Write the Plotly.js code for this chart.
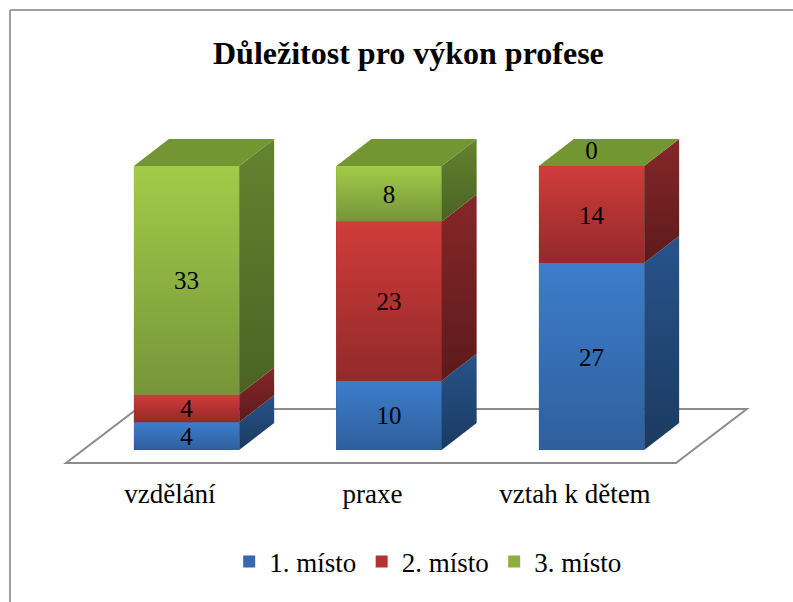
<!DOCTYPE html>
<html><head><meta charset="utf-8">
<script src="https://cdn.plot.ly/plotly-3.0.1.min.js"></script>
<style>html,body{margin:0;padding:0;background:#fff}#c{width:793px;height:602px}</style>
</head><body><div id="c"></div>
<script>
const categories = ["vzdělání", "praxe", "vztah k dětem"];
const seriesNames = ["1. místo", "2. místo", "3. místo"];
const place1 = [4, 10, 27];
const place2 = [4, 23, 14];
const place3 = [33, 8, 0];
const series = [place1, place2, place3];

const frontTop = ["#3d7dcc", "#d03c3a", "#a2cb48"];
const frontBottom = ["#2e5f9c", "#93292a", "#76953a"];
const sideTop = ["#27548c", "#86272a", "#64832f"];
const sideBottom = ["#1b3a60", "#5c1a1a", "#4a6324"];
const legendFill = ["#3568ac", "#b23333", "#8cb03f"];
const topFace = "#749632";
const floorLine = "#8c8c8c";
const borderLine = "#a0a0a0";
const fontName = '"Liberation Serif", "Times New Roman", serif';

const barWidth = 0.52, depthX = 0.1728, depthY = 3.9, tickShift = 0.082;
const floorLeft = -0.595, floorRight = 2.417, floorFront = -1.877, floorBack = 5.92;

const W = 793, H = 602, mTop = 130, mBottom = 132;
const paperY = px => ((H - mBottom) - px) / (H - mTop - mBottom);

const idx = categories.map((_, i) => i);
const traces = [];

series.forEach((vals, s) => traces.push({
  type: "bar", name: seriesNames[s], x: idx, y: vals, width: barWidth,
  marker: {color: legendFill[s], line: {width: 0}}, hoverinfo: "skip"
}));

function poly(xs, ys, stops) {
  traces.push({
    type: "scatter", mode: "lines", x: xs.concat(xs[0]), y: ys.concat(ys[0]),
    fill: "toself", line: {width: 0, color: "rgba(0,0,0,0)"},
    fillcolor: stops[0],
    fillgradient: {type: "vertical", colorscale: [[0, stops[1]], [1, stops[0]]]},
    showlegend: false, hoverinfo: "skip"
  });
}

const labelX = [], labelY = [], labelText = [];
idx.forEach(i => {
  const l = i - barWidth / 2, r = i + barWidth / 2;
  let base = 0;
  series.forEach((vals, s) => {
    const v = vals[i], t = base + v;
    if (v > 0) {
      poly([l, r, r, l], [base, base, t, t], [frontTop[s], frontBottom[s]]);
      poly([r, r + depthX, r + depthX, r], [base, base + depthY, t + depthY, t], [sideTop[s], sideBottom[s]]);
    }
    labelX.push(i);
    labelY.push(v > 0 ? base + v / 2 - 0.4 : t + depthY / 2 - 0.1);
    labelText.push(String(v));
    base = t;
  });
  poly([l, r, r + depthX, l + depthX], [base, base, base + depthY, base + depthY], [topFace, topFace]);
});

traces.push({
  type: "scatter", mode: "text", x: labelX, y: labelY, text: labelText,
  textposition: "middle center", textfont: {family: fontName, size: 25, color: "#000"},
  showlegend: false, hoverinfo: "skip"
});

const layout = {
  width: W, height: H, barmode: "stack", showlegend: true,
  paper_bgcolor: "#fff", plot_bgcolor: "rgba(0,0,0,0)",
  margin: {l: 0, r: 0, t: mTop, b: mBottom, pad: 0},
  font: {family: fontName, color: "#000"},
  title: {text: "<b>Důležitost pro výkon profese</b>", font: {family: fontName, size: 32, color: "#000"},
          x: 0.515, xanchor: "center", y: 0.912, yanchor: "middle"},
  xaxis: {range: [-0.921, 2.995], showgrid: false, zeroline: false, showline: false, ticks: "",
          tickmode: "array", tickvals: idx.map(i => i - tickShift), ticktext: categories,
          ticklabelstandoff: 5,
          tickfont: {family: fontName, size: 27, color: "#000"}},
  yaxis: {range: [-2.887, 46.2], visible: false, showgrid: false, zeroline: false},
  legend: {orientation: "h", x: 0.289, xanchor: "left", y: paperY(562), yanchor: "middle",
           entrywidth: 87.5, entrywidthmode: "pixels",
           font: {family: fontName, size: 27, color: "#000"}, bgcolor: "rgba(0,0,0,0)", traceorder: "normal"},
  shapes: [
    {type: "path", xref: "x", yref: "y", layer: "below",
     path: `M${floorLeft},${floorFront}L${floorRight},${floorFront}L${floorRight + 0.35},${floorBack}L${floorLeft + 0.35},${floorBack}Z`,
     fillcolor: "#fff", line: {color: floorLine, width: 2}},
    {type: "line", xref: "paper", yref: "paper", x0: 10 / W, x1: 10 / W, y0: paperY(602), y1: paperY(10), line: {color: borderLine, width: 2}},
    {type: "line", xref: "paper", yref: "paper", x0: 10 / W, x1: 1, y0: paperY(10), y1: paperY(10), line: {color: borderLine, width: 2}}
  ]
};
Plotly.newPlot("c", traces, layout, {displayModeBar: false, staticPlot: true});
</script></body></html>
